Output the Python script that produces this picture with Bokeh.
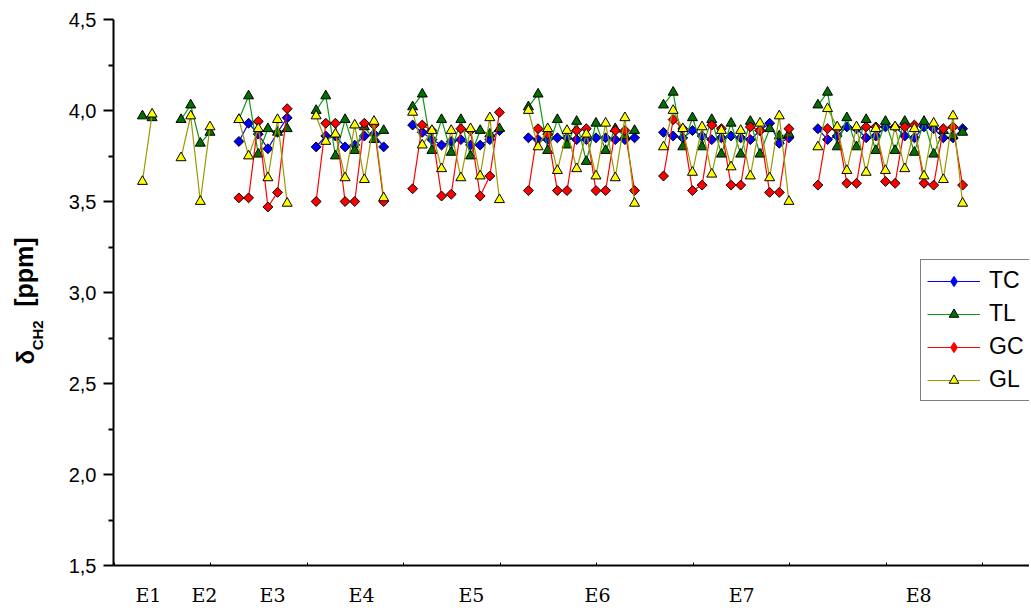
import numpy as np
from bokeh.plotting import figure
from bokeh.layouts import row
from bokeh.models import (Range1d, FixedTicker, Label, Legend, LegendItem,
                          CustomJSTickFormatter)
from bokeh.embed import file_html
from bokeh.resources import INLINE

# ---------------- data ----------------
groups = ["E1", "E2", "E3", "E4", "E5", "E6", "E7", "E8"]

TC = {
    "E3": [3.83, 3.93, 3.87, 3.79, 3.88, 3.96],
    "E4": [3.80, 3.86, 3.86, 3.80, 3.81, 3.86, 3.87, 3.80],
    "E5": [3.92, 3.88, 3.84, 3.81, 3.83, 3.84, 3.81, 3.81, 3.84, 3.89],
    "E6": [3.85, 3.84, 3.84, 3.85, 3.85, 3.84, 3.84, 3.85, 3.85, 3.84, 3.84, 3.85],
    "E7": [3.88, 3.86, 3.85, 3.89, 3.86, 3.84, 3.85, 3.86, 3.85, 3.84, 3.89, 3.93, 3.82, 3.85],
    "E8": [3.90, 3.84, 3.86, 3.91, 3.90, 3.85, 3.86, 3.91, 3.91, 3.86, 3.85, 3.91, 3.90, 3.85, 3.85, 3.90],
}
TL = {
    "E1": [3.97, 3.96],
    "E2": [3.95, 4.03, 3.82, 3.88],
    "E3": [3.95, 4.08, 3.76, 3.90, 3.88, 3.90],
    "E4": [4.00, 4.08, 3.75, 3.95, 3.78, 3.91, 3.84, 3.89],
    "E5": [4.02, 4.09, 3.78, 3.95, 3.77, 3.95, 3.75, 3.89, 3.87, 3.90],
    "E6": [4.02, 4.09, 3.78, 3.95, 3.81, 3.94, 3.72, 3.93, 3.78, 3.90, 3.86, 3.89],
    "E7": [4.03, 4.10, 3.80, 3.96, 3.80, 3.95, 3.76, 3.93, 3.76, 3.94, 3.76, 3.90, 3.86, 3.87],
    "E8": [4.03, 4.10, 3.80, 3.96, 3.80, 3.95, 3.78, 3.94, 3.78, 3.94, 3.77, 3.94, 3.76, 3.89, 3.86, 3.88],
}
GC = {
    "E3": [3.52, 3.52, 3.94, 3.47, 3.55, 4.01],
    "E4": [3.50, 3.93, 3.93, 3.50, 3.50, 3.93, 3.92, 3.50],
    "E5": [3.57, 3.92, 3.89, 3.53, 3.54, 3.90, 3.89, 3.53, 3.64, 3.99],
    "E6": [3.56, 3.90, 3.87, 3.56, 3.56, 3.89, 3.90, 3.56, 3.56, 3.89, 3.89, 3.56],
    "E7": [3.64, 3.95, 3.90, 3.56, 3.59, 3.92, 3.90, 3.59, 3.59, 3.91, 3.89, 3.55, 3.55, 3.90],
    "E8": [3.59, 3.90, 3.90, 3.60, 3.60, 3.91, 3.91, 3.61, 3.60, 3.91, 3.92, 3.60, 3.59, 3.90, 3.91, 3.59],
}
GL = {
    "E1": [3.61, 3.98],
    "E2": [3.74, 3.97, 3.50, 3.91],
    "E3": [3.95, 3.75, 3.90, 3.63, 3.95, 3.49],
    "E4": [3.97, 3.83, 3.87, 3.63, 3.92, 3.62, 3.94, 3.52],
    "E5": [3.99, 3.81, 3.89, 3.68, 3.89, 3.63, 3.90, 3.64, 3.96, 3.51],
    "E6": [4.00, 3.80, 3.90, 3.67, 3.89, 3.68, 3.87, 3.64, 3.93, 3.63, 3.96, 3.49],
    "E7": [3.80, 4.00, 3.90, 3.66, 3.91, 3.65, 3.89, 3.69, 3.89, 3.64, 3.93, 3.63, 3.97, 3.50],
    "E8": [3.80, 4.01, 3.91, 3.67, 3.91, 3.66, 3.90, 3.67, 3.91, 3.68, 3.90, 3.64, 3.93, 3.62, 3.97, 3.49],
}

y_ticks = [1.5, 2.0, 2.5, 3.0, 3.5, 4.0, 4.5]

# ---------------- x positions: point index, 2 empty slots between groups ----------------
xpos = {}
start = 1
for g in groups:
    n = len(GL[g])
    xpos[g] = list(range(start, start + n))
    start += n + 2


def line_xy(series):
    xs, ys = [], []
    for g in groups:
        if g in series:
            xs += xpos[g] + [np.nan]
            ys += series[g] + [np.nan]
    return xs, ys


def pts_xy(series):
    xs, ys = [], []
    for g in groups:
        if g in series:
            xs += xpos[g]
            ys += series[g]
    return xs, ys


H = 608
SIDE_W = 56
TOP = 19          # frame top (page px)
BOT = 41          # space below the frame
FRAME_BOTTOM = H - BOT

# ---------------- main figure ----------------
p = figure(width=1029 - SIDE_W, height=H, x_range=Range1d(-2.0, 92.93), y_range=Range1d(1.5, 4.5),
           output_backend="svg", toolbar_location=None,
           min_border_left=113 - SIDE_W, min_border_right=0, min_border_top=TOP, min_border_bottom=BOT)
p.outline_line_color = None
p.xgrid.visible = False
p.ygrid.visible = False
p.background_fill_color = "white"
p.border_fill_color = "white"

# y axis
yax = p.yaxis[0]
yax.ticker = FixedTicker(ticks=y_ticks,
                         minor_ticks=[t + 0.25 for t in y_ticks[:-1]])
yax.formatter = CustomJSTickFormatter(code="return tick.toFixed(1).replace('.', ',');")
yax.axis_line_width = 2
yax.axis_line_color = "black"
yax.major_tick_out = 10
yax.major_tick_in = 0
yax.major_tick_line_width = 2
yax.minor_tick_out = 5
yax.minor_tick_in = 0
yax.minor_tick_line_width = 2
yax.major_label_text_font = "Liberation Sans"
yax.major_label_text_font_size = "20px"
yax.major_label_text_color = "black"
yax.major_label_standoff = 7

# x axis: group names as tick labels, tiny minor ticks along the line
label_x = [1.62, 7.43, 14.48, 23.71, 35.1, 48.17, 63.1, 81.44]
xax = p.xaxis[0]
xax.ticker = FixedTicker(ticks=label_x, minor_ticks=[-1.9 + 10 * k for k in range(10)])
xax.major_label_overrides = {lx: g for lx, g in zip(label_x, groups)}
xax.axis_line_width = 2
xax.axis_line_color = "black"
xax.major_tick_out = 0
xax.major_tick_in = 0
xax.minor_tick_in = 3
xax.minor_tick_out = 0
xax.minor_tick_line_width = 1
xax.major_label_text_font = "DejaVu Serif"
xax.major_label_text_font_size = "19px"
xax.major_label_text_color = "black"
xax.major_label_standoff = 18

# series
styles = [
    ("TC", TC, "#0000ff", "#0000ff", "square", 7, np.pi / 4),
    ("TL", TL, "#119911", "#007000", "triangle", 10, 0),
    ("GC", GC, "#ff0000", "#ff0000", "square", 7, np.pi / 4),
    ("GL", GL, "#999900", "#ffff00", "triangle", 10, 0),
]
items = []
for name, ser, lc, fc, mk, sz, ang in styles:
    lx, ly = line_xy(ser)
    px, py = pts_xy(ser)
    lr = p.line(lx, ly, line_color=lc, line_width=1.2)
    sr = p.scatter(px, py, marker=mk, size=sz, angle=ang, fill_color=fc,
                   line_color="black", line_width=1)
    if mk == "square":
        # legend swatch only (no visible point): a diamond, as in the original legend
        sw = p.scatter(x=[np.nan], y=[np.nan], marker="diamond", size=sz, fill_color=fc,
                       line_color=lc, line_width=1.2)
        items.append(LegendItem(label=name, renderers=[lr, sw]))
    else:
        items.append(LegendItem(label=name, renderers=[lr, sr]))

legend = Legend(items=items, location=(807, 164), orientation="vertical",
                glyph_width=53, glyph_height=24, label_height=29, spacing=4,
                padding=6, margin=0, label_standoff=9,
                border_line_color="black", border_line_width=1.5,
                background_fill_color="white", background_fill_alpha=1,
                label_text_font="Liberation Sans", label_text_font_size="23px",
                label_text_color="black")
p.add_layout(legend)

# ---------------- side strip holding the y axis title ----------------
# same vertical frame as the main plot; data units of this strip = page pixels
s = figure(width=SIDE_W, height=H, title=None,
           x_range=Range1d(0, SIDE_W), y_range=Range1d(FRAME_BOTTOM, TOP),
           output_backend="svg", toolbar_location=None,
           x_axis_location=None, y_axis_location=None,
           min_border_left=0, min_border_right=0, min_border_top=TOP, min_border_bottom=BOT)
s.outline_line_color = None
s.xgrid.visible = False
s.ygrid.visible = False
s.background_fill_color = "white"
s.border_fill_color = "white"

# (text, centre x, centre y, font size) -- rotated to read bottom-to-top
for txt, cx, cy, fs in [("δ", 24.5, 358, "24px"),
                        ("CH2", 36.5, 336, "15px"),
                        ("[ppm]", 23.5, 272.5, "25px")]:
    s.add_layout(Label(x=cx, y=cy, text=txt,
                       angle=np.pi / 2, text_align="center", text_baseline="middle",
                       text_font="Liberation Sans", text_font_style="bold",
                       text_font_size=fs, text_color="black"))

layout = row(s, p)
open("out.html", "w").write(file_html(layout, INLINE))
